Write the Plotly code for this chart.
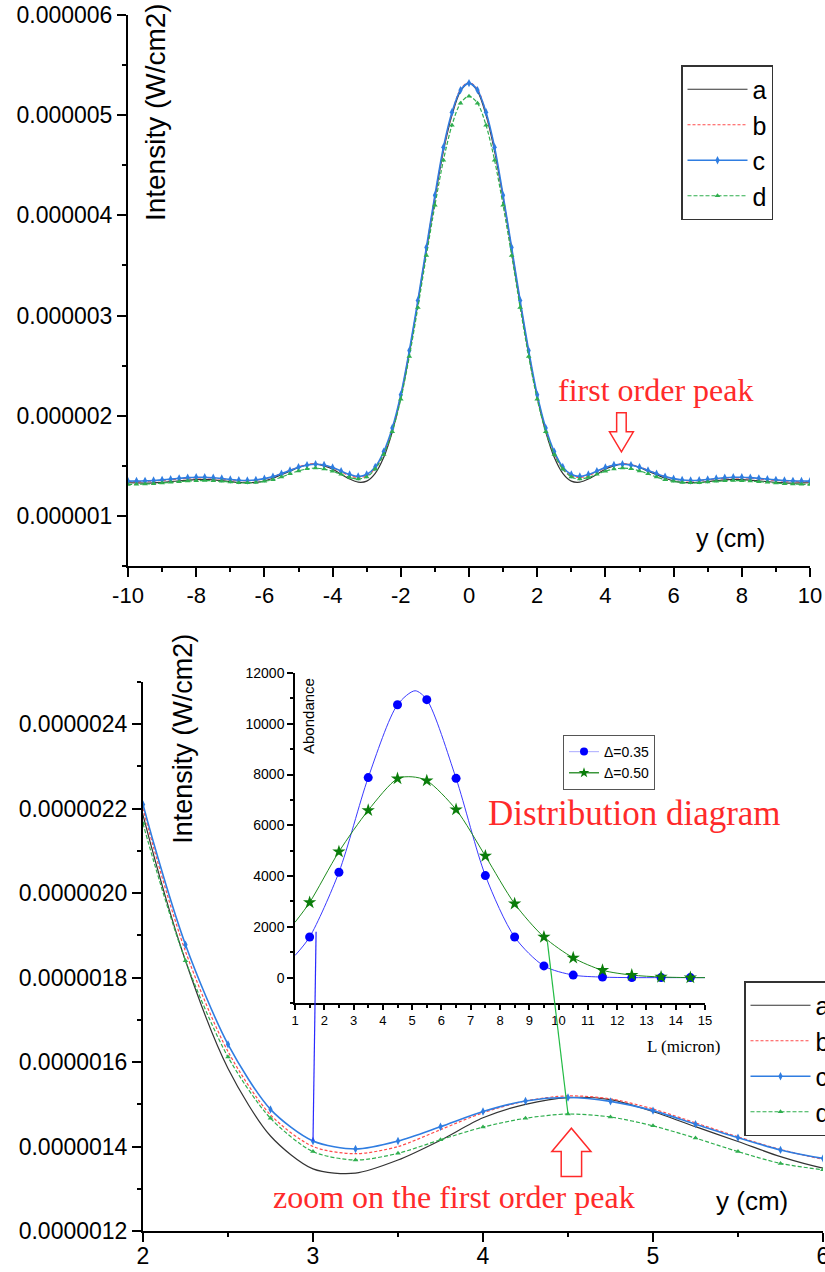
import plotly.graph_objects as go

# ---------------- data ----------------
Y_CM = [-10, -9.75, -9.5, -9.25, -9, -8.75, -8.5, -8.25, -8, -7.75, -7.5, -7.25, -7, -6.75, -6.5, -6.25,
        -6, -5.75, -5.5, -5.25, -5, -4.75, -4.5, -4.25, -4, -3.75, -3.5, -3.25, -3, -2.75, -2.5, -2.25,
        -2, -1.75, -1.5, -1.25, -1, -0.75, -0.5, -0.25, 0, 0.25, 0.5, 0.75, 1, 1.25, 1.5, 1.75,
        2, 2.25, 2.5, 2.75, 3, 3.25, 3.5, 3.75, 4, 4.25, 4.5, 4.75, 5, 5.25, 5.5, 5.75,
        6, 6.25, 6.5, 6.75, 7, 7.25, 7.5, 7.75, 8, 8.25, 8.5, 8.75, 9, 9.25, 9.5, 9.75, 10]

# intensities in units of 1e-6 W/cm2
I_A = [1.331, 1.329, 1.328, 1.330, 1.335, 1.342, 1.350, 1.358, 1.363, 1.364, 1.360, 1.352, 1.343, 1.334, 1.330, 1.334,
       1.349, 1.376, 1.412, 1.447, 1.483, 1.511, 1.516, 1.500, 1.468, 1.415, 1.368, 1.337, 1.347, 1.425, 1.585, 1.840,
       2.185, 2.620, 3.120, 3.650, 4.170, 4.640, 5.000, 5.240, 5.320, 5.240, 5.000, 4.640, 4.170, 3.650, 3.120, 2.620,
       2.185, 1.840, 1.585, 1.425, 1.347, 1.337, 1.368, 1.415, 1.468, 1.500, 1.516, 1.511, 1.483, 1.447, 1.412, 1.376,
       1.349, 1.334, 1.330, 1.334, 1.343, 1.352, 1.360, 1.364, 1.363, 1.358, 1.350, 1.342, 1.335, 1.330, 1.328, 1.329, 1.331]
I_B = [1.341, 1.342, 1.344, 1.348, 1.354, 1.361, 1.369, 1.376, 1.380, 1.380, 1.376, 1.369, 1.360, 1.353, 1.350, 1.356,
       1.370, 1.393, 1.423, 1.456, 1.489, 1.513, 1.520, 1.508, 1.480, 1.440, 1.400, 1.383, 1.400, 1.475, 1.625, 1.862,
       2.200, 2.640, 3.140, 3.670, 4.190, 4.660, 5.020, 5.260, 5.330, 5.260, 5.020, 4.660, 4.190, 3.670, 3.140, 2.640,
       2.200, 1.862, 1.625, 1.475, 1.400, 1.383, 1.400, 1.440, 1.480, 1.508, 1.520, 1.513, 1.489, 1.456, 1.423, 1.393,
       1.370, 1.356, 1.350, 1.353, 1.360, 1.369, 1.376, 1.380, 1.380, 1.376, 1.369, 1.361, 1.354, 1.348, 1.344, 1.342, 1.341]
I_C = [1.347, 1.348, 1.350, 1.354, 1.360, 1.367, 1.375, 1.382, 1.386, 1.386, 1.381, 1.373, 1.364, 1.356, 1.353, 1.358,
       1.372, 1.392, 1.421, 1.453, 1.485, 1.507, 1.516, 1.508, 1.483, 1.447, 1.413, 1.394, 1.413, 1.488, 1.642, 1.878,
       2.210, 2.650, 3.150, 3.680, 4.200, 4.680, 5.030, 5.250, 5.320, 5.250, 5.030, 4.680, 4.200, 3.680, 3.150, 2.650,
       2.210, 1.878, 1.642, 1.488, 1.413, 1.394, 1.413, 1.447, 1.483, 1.508, 1.516, 1.507, 1.485, 1.453, 1.421, 1.392,
       1.372, 1.358, 1.353, 1.356, 1.364, 1.373, 1.381, 1.386, 1.386, 1.382, 1.375, 1.367, 1.360, 1.354, 1.350, 1.348, 1.347]
I_D = [1.314, 1.315, 1.318, 1.322, 1.328, 1.335, 1.342, 1.348, 1.352, 1.353, 1.350, 1.345, 1.338, 1.332, 1.330, 1.334,
       1.345, 1.360, 1.388, 1.420, 1.449, 1.470, 1.477, 1.467, 1.446, 1.416, 1.384, 1.368, 1.388, 1.467, 1.612, 1.840,
       2.165, 2.590, 3.080, 3.600, 4.100, 4.550, 4.900, 5.120, 5.190, 5.120, 4.900, 4.550, 4.100, 3.600, 3.080, 2.590,
       2.165, 1.840, 1.612, 1.467, 1.388, 1.368, 1.384, 1.416, 1.446, 1.467, 1.477, 1.470, 1.449, 1.420, 1.388, 1.360,
       1.345, 1.334, 1.330, 1.332, 1.338, 1.345, 1.350, 1.353, 1.352, 1.348, 1.342, 1.335, 1.328, 1.322, 1.318, 1.315, 1.314]

SERIES_NAMES = ["a", "b", "c", "d"]

TOP_Y_TICKS = [1, 2, 3, 4, 5, 6]
TOP_Y_LABELS = ["0.000001", "0.000002", "0.000003", "0.000004", "0.000005", "0.000006"]
TOP_X_TICKS = [-10, -8, -6, -4, -2, 0, 2, 4, 6, 8, 10]
TOP_X_LABELS = ["-10", "-8", "-6", "-4", "-2", "0", "2", "4", "6", "8", "10"]

BOT_Y_TICKS = [1.2, 1.4, 1.6, 1.8, 2.0, 2.2, 2.4]
BOT_Y_LABELS = ["0.0000012", "0.0000014", "0.0000016", "0.0000018", "0.0000020", "0.0000022", "0.0000024"]
BOT_X_TICKS = [2, 3, 4, 5, 6]
BOT_X_LABELS = ["2", "3", "4", "5", "6"]

# inset: size distribution
L_POINTS = [1.5, 2.5, 3.5, 4.5, 5.5, 6.5, 7.5, 8.5, 9.5, 10.5, 11.5, 12.5, 13.5, 14.5]
ABOND_035 = [1600, 4150, 7880, 10750, 10950, 7850, 4020, 1600, 460, 100, 20, 0, 0, 0]
ABOND_050 = [2960, 4960, 6590, 7840, 7760, 6620, 4790, 2910, 1600, 780, 290, 100, 25, 0]
L_FIT_035 = [1, 1.5, 2.5, 3.5, 4.5, 5.1, 5.5, 6.5, 7.5, 8.5, 9.5, 10.5, 11.5, 12.5, 13.5, 14.5, 15]
FIT_035 = [870, 1600, 4150, 7880, 10750, 11300, 10950, 7850, 4020, 1600, 460, 100, 20, 0, 0, 0, 0]
L_FIT_050 = [1, 1.5, 2.5, 3.5, 4.5, 5.0, 5.5, 6.5, 7.5, 8.5, 9.5, 10.5, 11.5, 12.5, 13.5, 14.5, 15]
FIT_050 = [2180, 2960, 4960, 6590, 7840, 7910, 7760, 6620, 4790, 2910, 1600, 780, 290, 100, 25, 0, 0]
INSET_NAMES = ["Δ=0.35", "Δ=0.50"]

# connectors: inset point -> main-plot point
CONNECT_BLUE = dict(inset=(1.72, 1810), main_y=3.0)
CONNECT_GREEN = dict(inset=(9.62, 1400), main_y=4.5)

# ---------------- style ----------------
W, H = 825, 1272
ARIAL = "Arial, 'Liberation Sans', sans-serif"
TIMES = "'Times New Roman', 'Liberation Serif', serif"
RED = "#ff2a2a"

TOP = dict(xdom=[128 / W, 810 / W], ydom=[1 - 566 / H, 1 - 15 / H], xr=[-10, 10], yr=[0.5, 6])
BOT = dict(xdom=[143 / W, 823 / W], ydom=[1 - 1231 / H, 1 - 682 / H], xr=[2, 6], yr=[1.2, 2.5])
INS = dict(xdom=[295 / W, 705 / W], ydom=[1 - 1003 / H, 1 - 673 / H], xr=[1, 15], yr=[-1000, 12000])


def px(ax, v):
    return ax["xdom"][0] + (v - ax["xr"][0]) / (ax["xr"][1] - ax["xr"][0]) * (ax["xdom"][1] - ax["xdom"][0])


def py(ax, v):
    return ax["ydom"][0] + (v - ax["yr"][0]) / (ax["yr"][1] - ax["yr"][0]) * (ax["ydom"][1] - ax["ydom"][0])


STYLES = {
    "a": dict(line=dict(color="#333333", width=1.2), mode="lines", marker=None),
    "b": dict(line=dict(color="#ff4b4b", width=1.2, dash="3px,2px"), mode="lines", marker=None),
    "c": dict(line=dict(color="#2f7de1", width=1.6), mode="lines+markers",
              marker=dict(symbol="diamond-tall", size=6, color="#2f7de1")),
    "d": dict(line=dict(color="#2fae4e", width=1.2, dash="4px,2px"), mode="lines+markers",
              marker=dict(symbol="triangle-up", size=5, color="#2fae4e")),
}
SERIES = dict(zip(SERIES_NAMES, [I_A, I_B, I_C, I_D]))

fig = go.Figure()

for xa, ya, leg in [("x", "y", "legend"), ("x2", "y2", "legend2")]:
    for name in SERIES_NAMES:
        st = STYLES[name]
        kw = dict(x=Y_CM, y=SERIES[name], name=name, mode=st["mode"],
                  line=dict(st["line"], shape="spline", smoothing=0.8),
                  xaxis=xa, yaxis=ya, legend=leg, showlegend=True)
        if st["marker"]:
            kw["marker"] = st["marker"]
        fig.add_trace(go.Scatter(**kw))

# inset curves
fig.add_trace(go.Scatter(x=L_FIT_035, y=FIT_035, mode="lines",
                         line=dict(color="#3a3aff", width=1, shape="spline", smoothing=0.8),
                         xaxis="x3", yaxis="y3", showlegend=False, hoverinfo="skip"))
fig.add_trace(go.Scatter(x=L_FIT_050, y=FIT_050, mode="lines",
                         line=dict(color="#1e8c1e", width=1, shape="spline", smoothing=0.8),
                         xaxis="x3", yaxis="y3", showlegend=False, hoverinfo="skip"))
fig.add_trace(go.Scatter(x=L_POINTS, y=ABOND_035, mode="markers", marker=dict(symbol="circle", size=9, color="#0000ff"),
                         xaxis="x3", yaxis="y3", showlegend=False))
fig.add_trace(go.Scatter(x=L_POINTS, y=ABOND_050, mode="markers", marker=dict(symbol="star", size=10, color="#0a7d0a"),
                         xaxis="x3", yaxis="y3", showlegend=False))
fig.add_trace(go.Scatter(x=[None], y=[None], name=INSET_NAMES[0], mode="lines+markers",
                         line=dict(color="#b8b8ff", width=1.2), marker=dict(symbol="circle", size=8, color="#0000ff"),
                         xaxis="x3", yaxis="y3", legend="legend3"))
fig.add_trace(go.Scatter(x=[None], y=[None], name=INSET_NAMES[1], mode="lines+markers",
                         line=dict(color="#0a7d0a", width=1.2), marker=dict(symbol="star", size=8, color="#0a7d0a"),
                         xaxis="x3", yaxis="y3", legend="legend3"))


def axis(ax, which, anchor, tickvals=None, ticktext=None, dtick=None, minor_dtick=None, size=23,
         ticklen=9, lw=2, standoff=None):
    d = dict(domain=ax["xdom"] if which == "x" else ax["ydom"],
             range=ax["xr"] if which == "x" else ax["yr"],
             anchor=anchor, automargin=False, showgrid=False, zeroline=False, showline=True,
             linecolor="black", linewidth=lw,
             ticks="outside", ticklen=ticklen, tickwidth=lw, tickcolor="black",
             tickfont=dict(family=ARIAL, size=size, color="black"),
             ticklabeloverflow="allow",
             separatethousands=False, exponentformat="none",
             minor=dict(ticks="outside", ticklen=max(3, ticklen // 2), tickwidth=lw, tickcolor="black",
                        dtick=minor_dtick, tick0=0, showgrid=False))
    if standoff is not None:
        d["ticklabelstandoff"] = standoff
    if tickvals is not None:
        d.update(tickmode="array", tickvals=tickvals)
        if ticktext is not None:
            d["ticktext"] = ticktext
    elif dtick is not None:
        d.update(tickmode="linear", tick0=0, dtick=dtick, tickformat="d")
    return d


fig.update_layout(
    width=W, height=H, margin=dict(l=0, r=0, t=0, b=0, autoexpand=False),
    paper_bgcolor="white", plot_bgcolor="rgba(0,0,0,0)",
    xaxis=axis(TOP, "x", "y", tickvals=TOP_X_TICKS, ticktext=TOP_X_LABELS, minor_dtick=1, size=22),
    yaxis=axis(TOP, "y", "x", tickvals=TOP_Y_TICKS, ticktext=TOP_Y_LABELS, minor_dtick=0.5),
    xaxis2=axis(BOT, "x", "y2", tickvals=BOT_X_TICKS, ticktext=BOT_X_LABELS, minor_dtick=0.5, size=23, standoff=-6),
    yaxis2=axis(BOT, "y", "x2", tickvals=BOT_Y_TICKS, ticktext=BOT_Y_LABELS, minor_dtick=0.1),
    xaxis3=axis(INS, "x", "y3", dtick=1, minor_dtick=0.5, size=13, ticklen=5, lw=1.5),
    yaxis3=axis(INS, "y", "x3", dtick=2000, minor_dtick=1000, size=14, ticklen=6, lw=1.5),
    legend=dict(x=681 / W, y=1 - 65 / H, xanchor="left", yanchor="top", bgcolor="white",
                bordercolor="#333333", borderwidth=1.5, font=dict(family=ARIAL, size=25, color="black"),
                itemwidth=60, tracegroupgap=0),
    legend2=dict(x=744 / W, y=1 - 981 / H, xanchor="left", yanchor="top", bgcolor="white",
                 bordercolor="#333333", borderwidth=1.5, font=dict(family=ARIAL, size=25, color="black"),
                 itemwidth=60, tracegroupgap=0),
    legend3=dict(x=563 / W, y=1 - 735 / H, xanchor="left", yanchor="top", bgcolor="white",
                 bordercolor="#555555", borderwidth=1, font=dict(family=ARIAL, size=14, color="black"),
                 itemwidth=30, tracegroupgap=0),
    showlegend=True,
)


def note(text, x, y, xref, yref, family, size, color="black", angle=0):
    return dict(text=text, x=x, y=y, xref=xref, yref=yref, textangle=angle, xanchor="center", yanchor="middle",
                font=dict(family=family, size=size, color=color), showarrow=False)


ann = [
    note("Intensity (W/cm2)", -9.21, 5.03, "x", "y", ARIAL, 28, angle=-90),
    note("y (cm)", 7.68, 0.78, "x", "y", ARIAL, 25),
    note("first order peak", 5.48, 2.26, "x", "y", TIMES, 32, RED),
    note("Intensity (W/cm2)", 2.23, 2.366, "x2", "y2", ARIAL, 27, angle=-90),
    note("y (cm)", 5.58, 1.27, "x2", "y2", ARIAL, 26),
    note("zoom on the first order peak", 3.83, 1.281, "x2", "y2", TIMES, 32, RED),
    note("Abondance", 1.48, 10309, "x3", "y3", ARIAL, 15, angle=-90),
    note("Distribution diagram", 634 / W, 1 - 813 / H, "paper", "paper", TIMES, 35, RED),
    note("L (micron)", 683 / W, 1 - 1046 / H, "paper", "paper", TIMES, 17),
]
fig.update_layout(annotations=ann)


def arrow_path(cx, shaft_half, head_half, y_base, y_neck, y_tip):
    return (f"M {cx - shaft_half},{y_base} L {cx - shaft_half},{y_neck} L {cx - head_half},{y_neck} "
            f"L {cx},{y_tip} L {cx + head_half},{y_neck} L {cx + shaft_half},{y_neck} "
            f"L {cx + shaft_half},{y_base} Z")


shapes = []
shapes.append(dict(type="path", xref="x", yref="y", path=arrow_path(4.47, 0.14, 0.35, 2.03, 1.84, 1.64),
                   line=dict(color=RED, width=1.5), fillcolor="white", layer="above"))
shapes.append(dict(type="path", xref="x2", yref="y2", path=arrow_path(4.52, 0.06, 0.115, 1.329, 1.388, 1.4435),
                   line=dict(color=RED, width=1.5), fillcolor="white", layer="above"))

iy_b = Y_CM.index(CONNECT_BLUE["main_y"])
shapes.append(dict(type="line", xref="paper", yref="paper",
                   x0=px(INS, CONNECT_BLUE["inset"][0]), y0=py(INS, CONNECT_BLUE["inset"][1]),
                   x1=px(BOT, CONNECT_BLUE["main_y"]), y1=py(BOT, I_C[iy_b]),
                   line=dict(color="#2a2aff", width=1.2), layer="above"))
iy_g = Y_CM.index(CONNECT_GREEN["main_y"])
shapes.append(dict(type="line", xref="paper", yref="paper",
                   x0=px(INS, CONNECT_GREEN["inset"][0]), y0=py(INS, CONNECT_GREEN["inset"][1]),
                   x1=px(BOT, CONNECT_GREEN["main_y"]), y1=py(BOT, I_D[iy_g]),
                   line=dict(color="#22bb44", width=1.2), layer="above"))
fig.update_layout(shapes=shapes)

fig.write_html("out.html", config={"displayModeBar": False},
               post_script="document.body.style.margin='0px';document.body.style.overflow='hidden';")
